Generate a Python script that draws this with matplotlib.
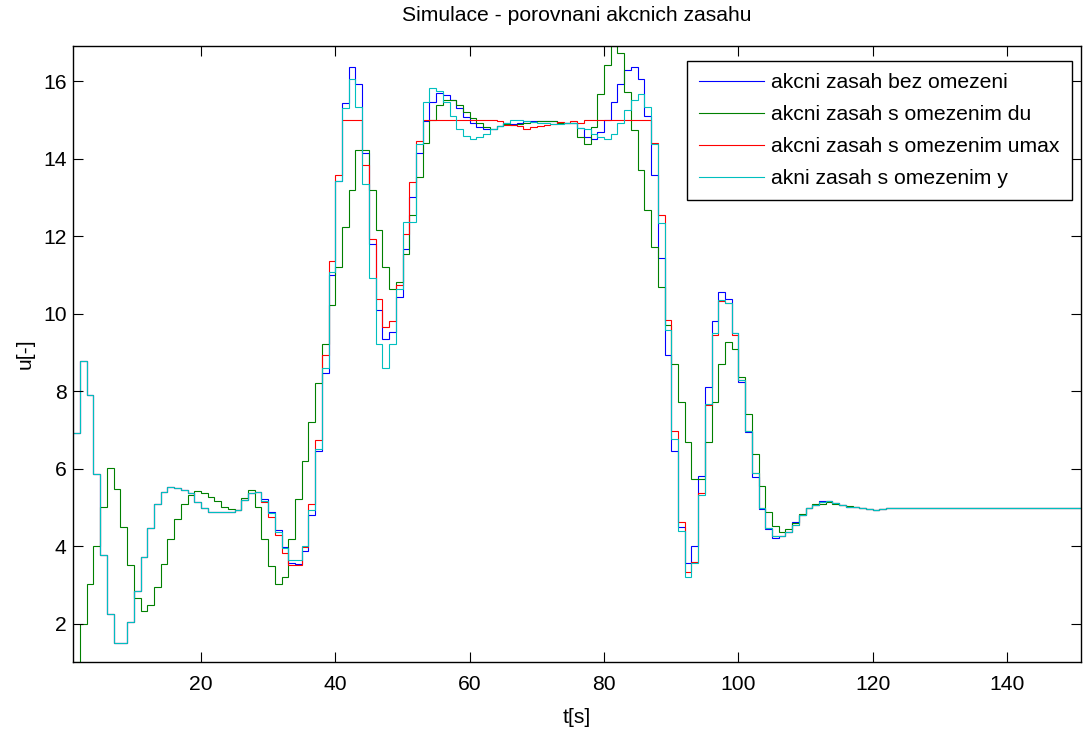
import numpy as np
import matplotlib

matplotlib.use("Agg")
import matplotlib.pyplot as plt

plt.rcParams["font.family"] = ["Liberation Sans", "DejaVu Sans"]

# step edges t = 1 .. 151, one value per sample interval
t_edges = np.arange(1, 152)

u_bez = [
    6.93, 8.79, 7.90, 5.86, 3.77, 2.25, 1.51, 1.51, 2.05, 2.85,
    3.73, 4.47, 5.08, 5.39, 5.53, 5.49, 5.44, 5.36, 5.13, 4.98,
    4.89, 4.89, 4.89, 4.89, 4.93, 5.18, 5.36, 5.39, 5.21, 4.89,
    4.42, 3.97, 3.57, 3.54, 3.88, 4.80, 6.45, 8.48, 11.00, 13.43,
    15.45, 16.37, 15.92, 14.14, 11.81, 10.09, 9.35, 9.54, 10.42, 11.67,
    13.02, 14.14, 14.97, 15.47, 15.70, 15.66, 15.53, 15.30, 15.08, 14.93,
    14.82, 14.78, 14.78, 14.84, 14.93, 14.89, 14.93, 14.97, 14.97, 14.97,
    14.97, 14.97, 14.93, 14.93, 14.93, 14.80, 14.55, 14.50, 14.69, 14.99,
    15.47, 15.94, 16.30, 16.37, 16.05, 15.10, 13.58, 11.43, 8.93, 6.46,
    4.49, 3.56, 4.00, 5.81, 8.10, 9.81, 10.55, 10.37, 9.49, 8.24,
    6.95, 5.79, 4.95, 4.43, 4.22, 4.25, 4.37, 4.61, 4.80, 4.98,
    5.06, 5.17, 5.17, 5.12, 5.06, 5.02, 5.00, 4.98, 4.95, 4.93,
    4.95, 4.99, 4.99, 4.99, 4.99, 4.99, 4.99, 4.99, 4.99, 4.99,
    4.99, 4.99, 4.99, 4.99, 4.99, 4.99, 4.99, 4.99, 4.99, 4.99,
    4.99, 4.99, 4.99, 4.99, 4.99, 4.99, 4.99, 4.99, 4.99, 4.99,
]

u_du = [
    1.00, 2.00, 3.02, 4.00, 5.02, 6.01, 5.48, 4.50, 3.50, 2.66,
    2.33, 2.48, 2.94, 3.53, 4.18, 4.71, 5.09, 5.32, 5.41, 5.36,
    5.26, 5.16, 5.02, 4.97, 4.93, 5.25, 5.45, 5.02, 4.19, 3.49,
    3.03, 3.21, 4.19, 5.22, 6.20, 7.20, 8.20, 9.22, 10.22, 11.21,
    12.23, 13.20, 14.24, 14.24, 13.20, 12.17, 11.21, 10.65, 10.83, 11.54,
    12.56, 13.53, 14.41, 14.99, 15.38, 15.53, 15.53, 15.38, 15.21, 15.06,
    14.93, 14.81, 14.78, 14.84, 14.91, 14.87, 14.91, 14.93, 14.95, 14.97,
    14.97, 14.97, 14.93, 14.93, 14.93, 14.55, 14.37, 14.82, 15.67, 16.41,
    16.92, 16.73, 15.73, 14.74, 13.71, 12.69, 11.71, 10.70, 9.72, 8.69,
    7.73, 6.70, 5.72, 5.72, 6.70, 7.73, 8.69, 9.26, 9.08, 8.37,
    7.40, 6.38, 5.54, 4.89, 4.53, 4.37, 4.43, 4.59, 4.83, 4.98,
    5.09, 5.10, 5.15, 5.10, 5.06, 5.04, 5.02, 4.98, 4.95, 4.93,
    4.95, 4.99, 4.99, 4.99, 4.99, 4.99, 4.99, 4.99, 4.99, 4.99,
    4.99, 4.99, 4.99, 4.99, 4.99, 4.99, 4.99, 4.99, 4.99, 4.99,
    4.99, 4.99, 4.99, 4.99, 4.99, 4.99, 4.99, 4.99, 4.99, 4.99,
]

u_umax = [
    6.93, 8.79, 7.90, 5.86, 3.77, 2.25, 1.51, 1.51, 2.05, 2.85,
    3.73, 4.47, 5.08, 5.39, 5.53, 5.49, 5.44, 5.36, 5.13, 4.98,
    4.89, 4.89, 4.89, 4.89, 4.93, 5.18, 5.36, 5.39, 5.13, 4.76,
    4.29, 3.83, 3.51, 3.51, 3.97, 5.08, 6.75, 8.93, 11.36, 13.58,
    14.99, 15.00, 15.00, 13.85, 11.94, 10.37, 9.65, 9.82, 10.74, 12.05,
    13.39, 14.46, 15.00, 15.00, 15.00, 15.00, 15.00, 15.00, 15.00, 15.00,
    15.00, 15.00, 15.00, 14.98, 14.87, 14.87, 14.84, 14.78, 14.82, 14.84,
    14.88, 14.91, 14.94, 14.93, 14.97, 14.93, 15.00, 15.00, 15.00, 15.00,
    15.00, 15.00, 15.00, 15.00, 15.00, 15.00, 14.41, 12.56, 9.85, 6.98,
    4.61, 3.32, 3.60, 5.36, 7.64, 9.45, 10.33, 10.28, 9.45, 8.29,
    6.98, 5.88, 4.98, 4.46, 4.25, 4.25, 4.37, 4.55, 4.80, 4.98,
    5.06, 5.15, 5.17, 5.12, 5.06, 5.02, 5.00, 4.98, 4.95, 4.93,
    4.95, 4.99, 4.99, 4.99, 4.99, 4.99, 4.99, 4.99, 4.99, 4.99,
    4.99, 4.99, 4.99, 4.99, 4.99, 4.99, 4.99, 4.99, 4.99, 4.99,
    4.99, 4.99, 4.99, 4.99, 4.99, 4.99, 4.99, 4.99, 4.99, 4.99,
]

u_y = [
    6.93, 8.79, 7.90, 5.86, 3.77, 2.25, 1.51, 1.51, 2.05, 2.85,
    3.73, 4.47, 5.08, 5.39, 5.53, 5.49, 5.44, 5.36, 5.13, 4.98,
    4.89, 4.89, 4.89, 4.89, 4.93, 5.18, 5.36, 5.39, 5.17, 4.85,
    4.37, 3.94, 3.64, 3.64, 3.99, 4.93, 6.50, 8.59, 11.08, 13.43,
    15.30, 16.05, 15.34, 13.34, 10.93, 9.22, 8.61, 9.22, 10.64, 12.37,
    12.37, 14.37, 15.47, 15.84, 15.74, 15.47, 15.10, 14.78, 14.58, 14.51,
    14.55, 14.65, 14.76, 14.84, 14.93, 14.99, 14.99, 14.97, 14.95, 14.93,
    14.93, 14.91, 14.89, 14.93, 14.93, 14.80, 14.76, 14.63, 14.57, 14.50,
    14.63, 14.93, 15.25, 15.53, 15.67, 15.34, 14.39, 12.33, 9.58, 6.76,
    4.40, 3.20, 3.56, 5.32, 7.68, 9.49, 10.35, 10.28, 9.49, 8.29,
    6.98, 5.88, 4.98, 4.46, 4.25, 4.25, 4.37, 4.55, 4.80, 4.98,
    5.06, 5.15, 5.17, 5.12, 5.06, 5.02, 5.00, 4.98, 4.95, 4.93,
    4.95, 4.99, 4.99, 4.99, 4.99, 4.99, 4.99, 4.99, 4.99, 4.99,
    4.99, 4.99, 4.99, 4.99, 4.99, 4.99, 4.99, 4.99, 4.99, 4.99,
    4.99, 4.99, 4.99, 4.99, 4.99, 4.99, 4.99, 4.99, 4.99, 4.99,
]

labels = [
    "akcni zasah bez omezeni",
    "akcni zasah s omezenim du",
    "akcni zasah s omezenim umax",
    "akni zasah s omezenim y",
]
colors = ["#0000ff", "#008000", "#ff0000", "#00bfbf"]
series = [u_bez, u_du, u_umax, u_y]

fs = 15.2

fig = plt.figure(figsize=(10.88, 7.29), dpi=100)
ax = fig.add_axes([0.0674, 0.0915, 0.9262, 0.8458])

for values, color, label in zip(series, colors, labels):
    ax.stairs(values, t_edges, color=color, linewidth=0.8, label=label, baseline=None)

all_vals = np.concatenate([np.asarray(s) for s in series])
ax.set_xlim(t_edges[0], t_edges[-1])
ax.set_ylim(all_vals.min(), all_vals.max())
ax.set_xticks([20, 40, 60, 80, 100, 120, 140])
ax.set_yticks([2, 4, 6, 8, 10, 12, 14, 16])

ax.tick_params(direction="in", top=True, right=True, length=7, width=0.8,
               labelsize=fs)
ax.tick_params(axis="x", pad=9.5)
ax.tick_params(axis="y", pad=4.8)
for spine in ax.spines.values():
    spine.set_linewidth(1.0)

ax.set_title("Simulace - porovnani akcnich zasahu", fontsize=fs, pad=17.5)
ax.set_xlabel("t[s]", fontsize=fs, labelpad=10)
ax.set_ylabel("u[-]", fontsize=fs, labelpad=6)

leg = ax.legend(loc="upper right", bbox_to_anchor=(0.991, 0.9757), borderaxespad=0,
                fontsize=fs, fancybox=False, framealpha=1, edgecolor="black",
                handlelength=3.08, handletextpad=0.33, labelspacing=0.62,
                borderpad=0.58)
leg.get_frame().set_linewidth(1.0)

fig.savefig("out.png", dpi=100)
